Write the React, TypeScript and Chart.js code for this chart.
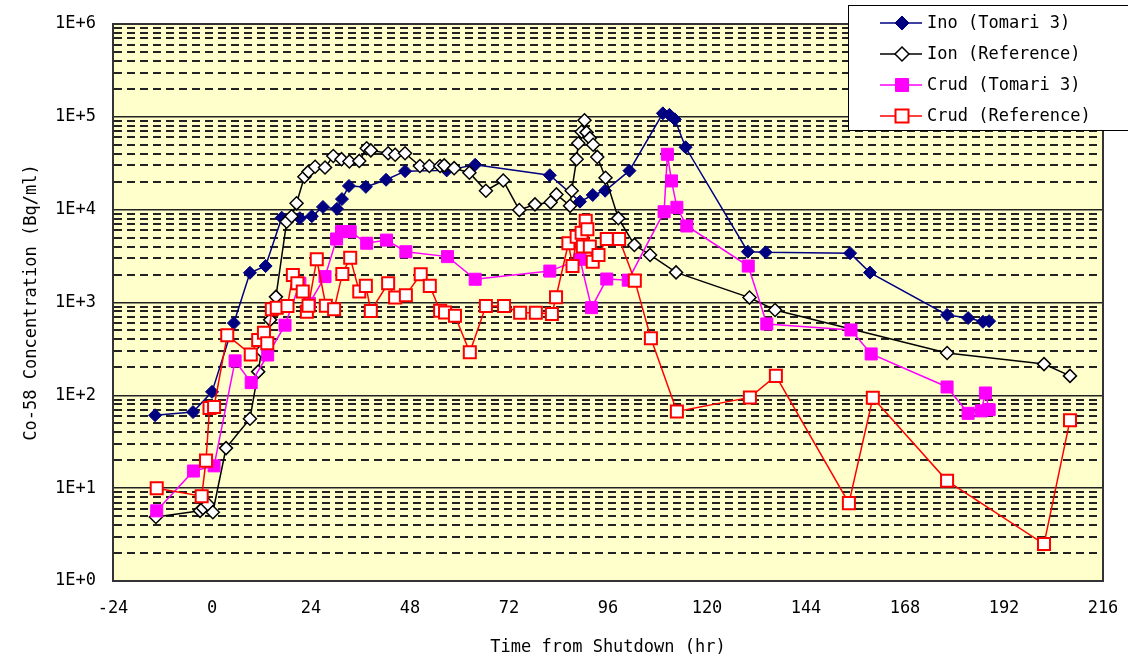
import React, { useEffect, useRef } from "react";
import { Chart, registerables } from "chart.js";

Chart.register(...registerables);

// ---------- data ----------
const inoTimes = [-13.8, -4.6, 0, 5.3, 9.2, 13.0, 16.9, 21.3, 24.2, 26.9, 30.3, 31.5, 33.2, 37.3, 42.2, 46.8, 56.9, 63.8, 81.9, 89.2, 92.3, 95.3, 101.2, 109.3, 110.9, 112.2, 114.8, 129.9, 134.2, 154.7, 159.5, 178.2, 183.3, 186.9, 188.4];
const inoValues = [61, 66, 109, 600, 2090, 2470, 8200, 8100, 8500, 10700, 10200, 13000, 18000, 17600, 21000, 26000, 26500, 30500, 23500, 12200, 14400, 16000, 26300, 109000, 105000, 94000, 47000, 3530, 3470, 3400, 2100, 735, 680, 620, 630];

const ionTimes = [-13.6, -2.9, -2.2, -1.0, 0.2, 3.4, 9.2, 11.2, 12.0, 14.1, 15.5, 18.1, 19.3, 20.5, 22.4, 23.4, 25.0, 27.4, 29.4, 31.4, 33.3, 35.7, 37.5, 38.5, 42.7, 44.4, 46.8, 50.4, 52.7, 55.3, 56.3, 58.7, 62.4, 66.4, 70.6, 74.5, 78.3, 82.1, 83.5, 86.8, 87.2, 88.4, 88.8, 89.6, 90.3, 90.8, 91.6, 92.4, 93.4, 95.4, 98.5, 102.4, 106.2, 112.5, 130.3, 136.5, 178.2, 201.7, 208.0];
const ionValues = [4.9, 5.7, 6.1, 6.7, 5.5, 27, 56, 180, 300, 650, 1150, 7400, 8500, 11700, 22600, 25700, 29000, 28500, 37800, 35000, 33000, 33500, 45900, 43500, 40500, 39000, 40500, 29500, 29500, 29500, 30000, 28000, 25000, 16000, 20600, 9900, 11400, 12000, 14600, 11000, 16000, 35000, 52000, 69000, 92000, 68000, 59000, 50000, 37000, 22100, 8100, 4170, 3250, 2110, 1130, 830, 286, 217, 162];

const crudTomariTimes = [-13.4, -4.5, 0.5, 5.6, 9.5, 13.5, 17.7, 21.3, 23.6, 27.4, 30.2, 31.4, 33.5, 37.5, 42.3, 47.0, 57.1, 63.8, 81.9, 89.2, 92.0, 95.7, 100.9, 109.6, 110.4, 111.4, 112.7, 115.1, 130.0, 134.5, 154.9, 159.8, 178.2, 183.3, 186.5, 187.5, 188.4];
const crudTomariValues = [5.7, 15.3, 17.4, 235, 137, 272, 570, 1610, 980, 1900, 4830, 5800, 5800, 4350, 4700, 3520, 3120, 1780, 2180, 2920, 880, 1790, 1740, 9500, 39500, 20400, 10600, 6670, 2470, 587, 506, 279, 123, 64, 68, 106, 70];

const crudRefTimes = [-13.4, -2.5, -1.45, -0.6, 0.5, 3.7, 9.4, 11.2, 12.6, 13.4, 14.5, 15.7, 18.3, 19.6, 20.7, 22.0, 23.0, 23.4, 25.4, 27.6, 29.6, 31.6, 33.5, 35.7, 37.3, 38.5, 42.7, 44.4, 47.0, 50.6, 52.8, 55.3, 56.5, 58.9, 62.5, 66.4, 70.8, 74.7, 78.5, 82.4, 83.4, 86.4, 87.4, 88.4, 89.6, 89.9, 90.6, 91.0, 91.6, 92.3, 93.7, 95.7, 98.7, 102.5, 106.4, 112.7, 130.4, 136.7, 154.4, 160.2, 178.2, 201.7, 208.0];
const crudRefValues = [10, 8.2, 19.8, 73, 75, 445, 276, 395, 473, 363, 845, 880, 915, 1980, 1610, 1310, 795, 925, 2920, 925, 845, 2030, 3040, 1310, 1510, 810, 1610, 1130, 1200, 2015, 1510, 815, 780, 720, 291, 917, 917, 777, 777, 752, 1140, 4350, 2470, 5100, 5650, 4000, 7600, 6150, 4000, 2750, 3250, 4830, 4830, 1720, 411, 67, 95, 162, 6.9, 94, 12, 2.5, 54];

const seriesLabels = ["Ino (Tomari 3)", "Ion (Reference)", "Crud (Tomari 3)", "Crud (Reference)"];
const xTickValues = [-24, 0, 24, 48, 72, 96, 120, 144, 168, 192, 216];
const yTickLabels = ["1E+0", "1E+1", "1E+2", "1E+3", "1E+4", "1E+5", "1E+6"];
const xTitle = "Time from Shutdown (hr)";
const yTitle = "Co-58 Concentration (Bq/ml)";

// ---------- helpers ----------
const FONT = "'DejaVu Sans Mono', 'Liberation Mono', monospace";

const yGridValues: number[] = (() => {
  const out: number[] = [];
  for (let e = 0; e < 6; e++) {
    for (let m = 1; m <= 9; m++) out.push(m * Math.pow(10, e));
  }
  out.push(1e6);
  return out;
})();

const isPow10 = (v: number) => {
  const l = Math.log10(v);
  return Math.abs(l - Math.round(l)) < 1e-9;
};

const toPoints = (xs: number[], ys: number[]) => xs.map((x, i) => ({ x, y: ys[i] }));

type Style = {
  color: string;
  shape: "diamond" | "square";
  fill: string;
  stroke: string;
  r: number;
  bw: number;
};

const styles: Style[] = [
  { color: "#000080", shape: "diamond", fill: "#000080", stroke: "#000080", r: 6.5, bw: 1 },
  { color: "#000000", shape: "diamond", fill: "#FFFFFF", stroke: "#000000", r: 6.5, bw: 1.5 },
  { color: "#FF00FF", shape: "square", fill: "#FF00FF", stroke: "#FF00FF", r: 8.5, bw: 1 },
  { color: "#FF0000", shape: "square", fill: "#FFFFFF", stroke: "#FF0000", r: 8.5, bw: 2 },
];

const bgPlugin = {
  id: "plotBg",
  beforeDraw(chart: any) {
    const { ctx, chartArea: a } = chart;
    ctx.save();
    ctx.fillStyle = "#FFFFCC";
    ctx.fillRect(a.left, a.top, a.right - a.left, a.bottom - a.top);
    ctx.restore();
  },
  beforeDatasetsDraw(chart: any) {
    const { ctx, chartArea: a } = chart;
    ctx.save();
    ctx.strokeStyle = "#333333";
    ctx.lineWidth = 2;
    ctx.strokeRect(a.left, a.top, a.right - a.left, a.bottom - a.top);
    ctx.restore();
  },
};

const legendPlugin = {
  id: "customLegend",
  afterDraw(chart: any) {
    const ctx: CanvasRenderingContext2D = chart.ctx;
    ctx.save();
    ctx.fillStyle = "#FFFFFF";
    ctx.fillRect(848, 5, 300, 125);
    ctx.strokeStyle = "#000000";
    ctx.lineWidth = 1;
    ctx.strokeRect(848.5, 5.5, 300, 125);
    const rows = [23, 54, 85, 116];
    seriesLabels.forEach((label, i) => {
      const s = styles[i];
      const y = rows[i];
      ctx.strokeStyle = s.color;
      ctx.lineWidth = 1.5;
      ctx.beginPath();
      ctx.moveTo(880, y);
      ctx.lineTo(922, y);
      ctx.stroke();
      const cx = 902;
      ctx.beginPath();
      if (s.shape === "diamond") {
        const r = 7;
        ctx.moveTo(cx, y - r);
        ctx.lineTo(cx + r, y);
        ctx.lineTo(cx, y + r);
        ctx.lineTo(cx - r, y);
        ctx.closePath();
      } else {
        const h = 6.5;
        ctx.rect(cx - h, y - h, 2 * h, 2 * h);
      }
      ctx.fillStyle = s.fill;
      ctx.fill();
      ctx.strokeStyle = s.stroke;
      ctx.lineWidth = s.bw;
      ctx.stroke();
      ctx.fillStyle = "#000000";
      ctx.font = `17px ${FONT}`;
      ctx.textAlign = "left";
      ctx.textBaseline = "middle";
      ctx.fillText(label, 927, y + 1);
    });
    ctx.restore();
  },
};

export default function App() {
  const canvasRef = useRef<HTMLCanvasElement | null>(null);

  useEffect(() => {
    if (!canvasRef.current) return;
    const seriesData = [
      toPoints(inoTimes, inoValues),
      toPoints(ionTimes, ionValues),
      toPoints(crudTomariTimes, crudTomariValues),
      toPoints(crudRefTimes, crudRefValues),
    ];
    const datasets = seriesData.map((data, i) => {
      const s = styles[i];
      return {
        label: seriesLabels[i],
        data,
        showLine: true,
        borderColor: s.color,
        backgroundColor: s.fill,
        borderWidth: 1.5,
        pointStyle: s.shape === "diamond" ? "rectRot" : "rect",
        pointRadius: s.r,
        pointBackgroundColor: s.fill,
        pointBorderColor: s.stroke,
        pointBorderWidth: s.bw,
        tension: 0,
        order: 3 - i,
      };
    });

    const chart = new Chart(canvasRef.current, {
      type: "scatter",
      data: { datasets: datasets as any },
      options: {
        animation: false,
        responsive: false,
        devicePixelRatio: 1,
        events: [],
        layout: { padding: { top: 24, right: 25, left: 0, bottom: 0 } },
        plugins: {
          legend: { display: false },
          tooltip: { enabled: false },
        },
        scales: {
          x: {
            type: "linear",
            min: -24,
            max: 216,
            afterBuildTicks: (scale: any) => {
              scale.ticks = xTickValues.map((v) => ({ value: v }));
            },
            afterFit: (scale: any) => {
              scale.height = 80;
              scale.paddingLeft = 0;
              scale.paddingRight = 0;
            },
            ticks: {
              color: "#000000",
              font: { family: FONT, size: 17 },
              padding: 17,
              autoSkip: false,
              maxRotation: 0,
              callback: (v: any) => String(v),
            },
            grid: { display: false, drawTicks: false },
            border: { display: true, color: "#333333", width: 2 },
            title: {
              display: true,
              text: xTitle,
              color: "#000000",
              font: { family: FONT, size: 17 },
              padding: { top: 0, bottom: 3 },
            },
          },
          y: {
            type: "logarithmic",
            min: 1,
            max: 1e6,
            afterBuildTicks: (scale: any) => {
              scale.ticks = yGridValues.map((v) => ({ value: v, major: isPow10(v) }));
            },
            afterFit: (scale: any) => {
              scale.width = 113;
              scale.paddingTop = 0;
              scale.paddingBottom = 0;
            },
            ticks: {
              color: "#000000",
              font: { family: FONT, size: 17 },
              padding: 17,
              autoSkip: false,
              callback: (v: any) => {
                const n = Number(v);
                if (!isPow10(n)) return "";
                return yTickLabels[Math.round(Math.log10(n))];
              },
            },
            grid: {
              drawTicks: false,
              color: "#222222",
              lineWidth: (ctx: any) => (ctx.tick && isPow10(ctx.tick.value) ? 1.5 : 2),
            },
            border: {
              display: true,
              color: "#333333",
              width: 2,
              dash: (ctx: any) => (ctx.tick && !isPow10(ctx.tick.value) ? [8, 5] : []),
            },
            title: {
              display: true,
              text: yTitle,
              color: "#000000",
              font: { family: FONT, size: 17 },
              padding: { top: 21, bottom: 0 },
            },
          },
        },
      },
      plugins: [bgPlugin, legendPlugin],
    } as any);

    return () => {
      chart.destroy();
    };
  }, []);

  return (
    <div style={{ position: "fixed", left: 0, top: 0, width: 1128, height: 661, background: "#FFFFFF" }}>
      <canvas ref={canvasRef} width={1128} height={661} style={{ display: "block", width: 1128, height: 661 }} />
    </div>
  );
}
